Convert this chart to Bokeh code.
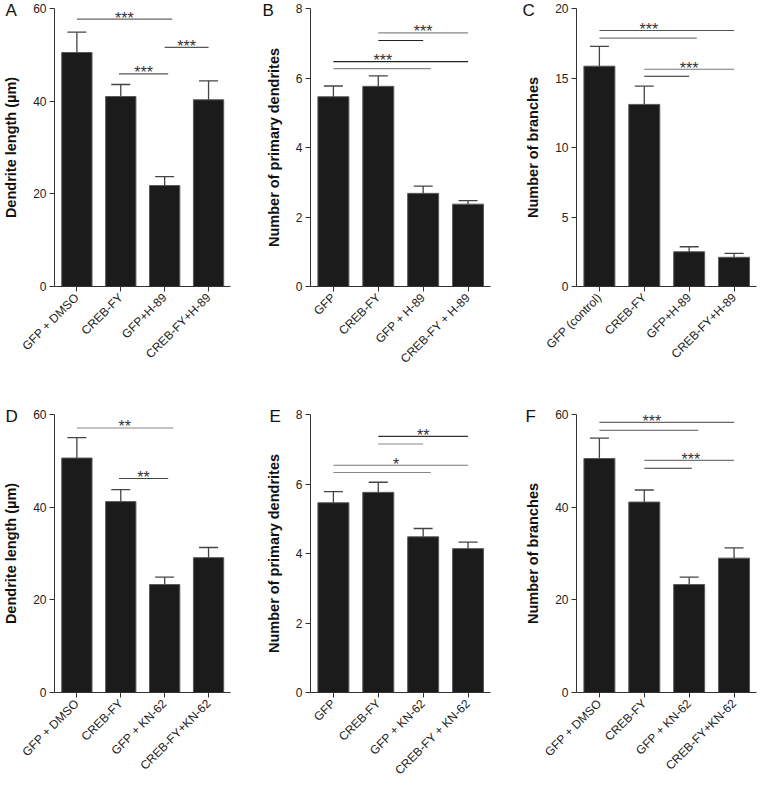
import numpy as np
from bokeh.plotting import figure
from bokeh.layouts import gridplot
from bokeh.models import Range1d, FixedTicker, Whisker, TeeHead, ColumnDataSource
from bokeh.embed import file_html
from bokeh.resources import INLINE
from bokeh.core.properties import value

# ---------------- data ----------------
cats_A = ["GFP + DMSO", "CREB-FY", "GFP+H-89", "CREB-FY+H-89"]
mean_A = [50.5, 41.0, 21.8, 40.3]
sem_A = [4.4, 2.6, 1.9, 4.1]

cats_B = ["GFP", "CREB-FY", "GFP + H-89", "CREB-FY + H-89"]
mean_B = [5.46, 5.76, 2.68, 2.37]
sem_B = [0.31, 0.30, 0.21, 0.10]

cats_C = ["GFP (control)", "CREB-FY", "GFP+H-89", "CREB-FY+H-89"]
mean_C = [15.85, 13.1, 2.5, 2.1]
sem_C = [1.43, 1.31, 0.36, 0.29]

cats_D = ["GFP + DMSO", "CREB-FY", "GFP + KN-62", "CREB-FY+KN-62"]
mean_D = [50.6, 41.2, 23.3, 29.1]
sem_D = [4.4, 2.6, 1.6, 2.2]

cats_E = ["GFP", "CREB-FY", "GFP + KN-62", "CREB-FY + KN-62"]
mean_E = [5.46, 5.76, 4.48, 4.14]
sem_E = [0.32, 0.29, 0.24, 0.19]

cats_F = ["GFP + DMSO", "CREB-FY", "GFP + KN-62", "CREB-FY+KN-62"]
mean_F = [50.5, 41.1, 23.3, 29.0]
sem_F = [4.4, 2.6, 1.6, 2.2]

# significance brackets: (x0, x1, y, color) and stars: (x, y, text)
lines_A = [(1, 3.17, 57.7, "#666"), (1.96, 3.08, 45.9, "#555"), (3, 4, 51.6, "#555")]
stars_A = [(2.08, 57.7, "***"), (2.52, 45.9, "***"), (3.5, 51.6, "***")]
lines_B = [(2, 4, 7.30, "#888"), (2, 3, 7.08, "#222"), (1, 4, 6.47, "#222"), (1, 3.17, 6.27, "#888")]
stars_B = [(3.0, 7.30, "***"), (2.1, 6.47, "***")]
lines_C = [(1, 4, 18.42, "#555"), (1, 3.17, 17.87, "#777"), (2, 4, 15.63, "#777"), (2, 3, 15.13, "#222")]
stars_C = [(2.1, 18.42, "***"), (3.0, 15.63, "***")]
lines_D = [(1, 3.2, 57.1, "#888"), (1.96, 3.08, 46.2, "#444")]
stars_D = [(2.09, 57.1, "**"), (2.52, 46.2, "**")]
lines_E = [(2, 4, 7.37, "#333"), (2, 3, 7.15, "#888"), (1, 4, 6.54, "#777"), (1, 3.17, 6.33, "#888")]
stars_E = [(3.0, 7.37, "**"), (2.4, 6.54, "*")]
lines_F = [(1, 4, 58.3, "#666"), (1, 3.2, 56.6, "#555"), (2, 4, 50.1, "#777"), (2, 3.06, 48.4, "#333")]
stars_F = [(2.17, 58.3, "***"), (3.04, 50.1, "***")]

FONT = "Liberation Sans"
FRAME_W = 180
FRAME_H = 278
XR = (0.49, 4.5)


def panel(letter, cats, means, sems, ymax, ystep, ylabel, lines, stars,
          bl, br, bt, bb, letter_dx, letter_standoff):
    w = bl + FRAME_W + br
    h = bt + FRAME_H + bb
    p = figure(width=w, height=h, x_range=Range1d(*XR), y_range=Range1d(0, ymax),
               output_backend="svg", toolbar_location=None,
               min_border_left=bl, min_border_right=br,
               min_border_top=bt, min_border_bottom=bb)
    p.outline_line_color = None
    p.grid.visible = False
    p.background_fill_color = "white"
    p.border_fill_color = "white"

    xs = list(range(1, len(cats) + 1))
    src = ColumnDataSource(dict(x=xs, top=means,
                                upper=[m + s for m, s in zip(means, sems)],
                                lower=means))
    p.add_layout(Whisker(base="x", upper="upper", lower="lower", source=src,
                         line_color="#444", line_width=1.3,
                         upper_head=TeeHead(size=19, line_color="#444", line_width=1.3),
                         lower_head=None, level="glyph"))
    p.vbar(x="x", top="top", width=0.69, source=src, fill_color="#1b1b1b",
           line_color="#5a5a5a", line_width=1)

    ppu = ymax / FRAME_H
    for (x0, x1, y, c) in lines:
        p.segment(x0=[x0], y0=[y], x1=[x1], y1=[y], line_color=c, line_width=1.1)
    p.text(x=[s[0] for s in stars], y=[s[1] + 1.0 * ppu for s in stars],
           text=[s[2] for s in stars], text_align="center", text_baseline="alphabetic",
           text_font=value(FONT), text_font_size="16px", text_color="#333")

    # panel letter as a left-aligned title shifted into the left margin
    p.title.text = letter
    p.title.text_font = FONT
    p.title.text_font_size = "17px"
    p.title.text_font_style = "normal"
    p.title.text_color = "#111"
    p.title.align = "left"
    p.title.offset = letter_dx
    p.title.standoff = letter_standoff

    # axes
    p.xaxis.ticker = FixedTicker(ticks=xs)
    p.xaxis.major_label_overrides = {x: c for x, c in zip(xs, cats)}
    p.xaxis.major_label_orientation = np.pi / 4
    p.yaxis.ticker = FixedTicker(ticks=list(range(0, ymax + 1, ystep)))
    for ax in (p.xaxis[0], p.yaxis[0]):
        ax.axis_line_color = "#333"
        ax.axis_line_width = 1
        ax.major_tick_line_color = "#333"
        ax.major_tick_out = 5
        ax.major_tick_in = 0
        ax.minor_tick_line_color = None
        ax.major_label_text_font = FONT
        ax.major_label_text_font_size = "12px"
        ax.major_label_text_color = "#222"
    p.xaxis.major_label_standoff = 4
    p.yaxis.major_label_standoff = 3
    p.yaxis.axis_label = ylabel
    p.yaxis.axis_label_text_font = FONT
    p.yaxis.axis_label_text_font_style = "bold"
    p.yaxis.axis_label_text_font_size = "14.5px"
    p.yaxis.axis_label_text_color = "#111"
    p.yaxis.axis_label_standoff = 11
    return p


# row 1
pA = panel("A", cats_A, mean_A, sem_A, 60, 20, "Dendrite length (µm)", lines_A, stars_A,
           50, 20, 8, 104, -49, -22)
pB = panel("B", cats_B, mean_B, sem_B, 8, 2, "Number of primary dendrites", lines_B, stars_B,
           60, 16, 8, 104, -48, -22)
pC = panel("C", cats_C, mean_C, sem_C, 20, 5, "Number of branches", lines_C, stars_C,
           70, 2, 8, 104, -54, -22)
# row 2
pD = panel("D", cats_D, mean_D, sem_D, 60, 20, "Dendrite length (µm)", lines_D, stars_D,
           50, 20, 24, 93, -49, -22)
pE = panel("E", cats_E, mean_E, sem_E, 8, 2, "Number of primary dendrites", lines_E, stars_E,
           60, 16, 24, 93, -41, -22)
pF = panel("F", cats_F, mean_F, sem_F, 60, 20, "Number of branches", lines_F, stars_F,
           70, 2, 24, 93, -51, -22)

grid = gridplot([[pA, pB, pC], [pD, pE, pF]], toolbar_location=None)

open("out.html", "w").write(file_html(grid, INLINE))
